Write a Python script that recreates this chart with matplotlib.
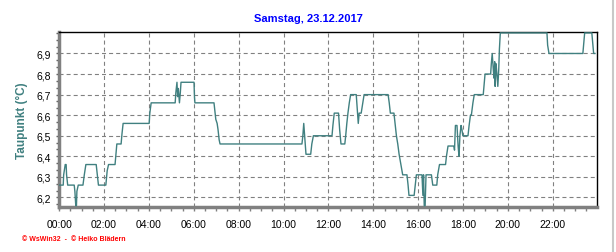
import matplotlib
matplotlib.use("Agg")
import matplotlib.pyplot as plt
from matplotlib.ticker import MultipleLocator, FixedLocator, FuncFormatter
from matplotlib.lines import Line2D

plt.rcParams['font.family'] = ['Liberation Sans', 'DejaVu Sans']
plt.rcParams['lines.scale_dashes'] = False

title = "Samstag, 23.12.2017"
ylabel = "Taupunkt (°C)"
footer = "© WsWin32  -  © Heiko Blädern"

# time in hours, dew point values (°C)
hours = [0.00, 0.18, 0.20, 0.27, 0.31, 0.33, 0.38, 0.67, 0.70, 0.74, 0.77, 0.79, 0.85,
         1.06, 1.12, 1.19, 1.65, 1.70, 1.75, 2.08, 2.14, 2.20, 2.49, 2.53, 2.57, 2.76,
         2.80, 2.85, 4.01, 4.04, 4.10, 5.17, 5.20, 5.25, 5.28, 5.31, 5.36, 5.40, 5.43,
         6.01, 6.03, 6.05, 6.90, 6.93, 6.98, 7.04, 7.08, 7.13, 7.17, 10.82, 10.86, 10.90,
         10.94, 11.00, 11.21, 11.26, 11.33, 12.16, 12.20, 12.26, 12.45, 12.50, 12.56,
         12.73, 12.77, 12.82, 12.87, 12.93, 12.99, 13.24, 13.28, 13.33, 13.37, 13.46,
         13.53, 13.59, 14.66, 14.71, 14.76, 14.92, 14.97, 15.03, 15.09, 15.15, 15.23,
         15.31, 15.50, 15.55, 15.59, 15.82, 15.87, 15.92, 16.17, 16.21, 16.24, 16.27,
         16.31, 16.35, 16.59, 16.65, 16.83, 16.87, 16.95, 17.22, 17.26, 17.33, 17.59,
         17.62, 17.66, 17.73, 17.78, 17.82, 17.86, 17.91, 17.95, 17.99, 18.22, 18.27,
         18.33, 18.37, 18.44, 18.50, 18.90, 18.94, 18.98, 19.23, 19.26, 19.30, 19.35,
         19.38, 19.41, 19.43, 19.47, 19.51, 19.55, 19.59, 19.62, 19.66, 21.74, 21.77,
         21.83, 23.34, 23.38, 23.42, 23.74, 23.78, 23.82, 23.88]
values = [6.26, 6.26, 6.31, 6.36, 6.36, 6.31, 6.26, 6.26, 6.23, 6.16, 6.16, 6.23, 6.26,
          6.26, 6.31, 6.36, 6.36, 6.31, 6.26, 6.26, 6.33, 6.36, 6.36, 6.41, 6.46, 6.46,
          6.51, 6.56, 6.56, 6.61, 6.66, 6.66, 6.71, 6.76, 6.69, 6.73, 6.66, 6.71, 6.76,
          6.76, 6.69, 6.66, 6.66, 6.63, 6.58, 6.56, 6.53, 6.48, 6.46, 6.46, 6.50, 6.56,
          6.50, 6.41, 6.41, 6.46, 6.50, 6.50, 6.55, 6.61, 6.61, 6.53, 6.46,
          6.46, 6.50, 6.56, 6.61, 6.66, 6.70, 6.70, 6.64, 6.56, 6.61, 6.61,
          6.66, 6.70, 6.70, 6.66, 6.61, 6.61, 6.56, 6.50, 6.46, 6.41, 6.36,
          6.31, 6.31, 6.26, 6.21, 6.21, 6.26, 6.31, 6.31, 6.21, 6.31, 6.16,
          6.16, 6.31, 6.31, 6.26, 6.26, 6.31, 6.36, 6.36, 6.40, 6.45, 6.45,
          6.43, 6.55, 6.55, 6.45, 6.40, 6.50, 6.55, 6.53, 6.50, 6.50, 6.55,
          6.60, 6.60, 6.66, 6.70, 6.70, 6.75, 6.80, 6.80, 6.85, 6.90, 6.82,
          6.78, 6.86, 6.74, 6.85, 6.80, 6.74, 6.82, 6.92, 7.00, 7.00, 6.94,
          6.90, 6.90, 6.95, 7.00, 7.00, 6.95, 6.90, 6.90]

x_ticks = list(range(0, 24, 2))
x_labels = [f"{h:02d}:00" for h in x_ticks]
y_ticks = [6.2, 6.3, 6.4, 6.5, 6.6, 6.7, 6.8, 6.9]
y_labels = ["6,2", "6,3", "6,4", "6,5", "6,6", "6,7", "6,8", "6,9"]

W, H = 616, 253
fig = plt.figure(figsize=(W / 100, H / 100), dpi=100)
fig.patch.set_facecolor('white')
ax = fig.add_axes([58.5 / W, (H - 207.7) / H, (597 - 58.5) / W, (207.7 - 33.3) / H])

ax.plot(hours, values, color='#408080', linewidth=1.0, zorder=3)

ax.set_xlim(-0.03, 23.97)
ax.set_ylim(6.155, 7.003)

ax.xaxis.set_major_locator(FixedLocator(x_ticks))
ax.set_xticks(x_ticks)
ax.set_xticklabels(x_labels)
ax.xaxis.set_minor_locator(MultipleLocator(0.5))
ax.set_yticks(y_ticks)
ax.set_yticklabels(y_labels)
ax.yaxis.set_minor_locator(MultipleLocator(0.1 / 3))

ax.tick_params(axis='x', which='both', direction='out', length=3, width=1,
               color='#808080', labelsize=7.5, pad=6)
ax.tick_params(axis='y', which='both', direction='out', length=2.5, width=1,
               color='#606060', labelsize=7.5, pad=3)

ax.grid(True, which='major', color='#808080', linestyle=(0, (2.9, 2.2)), linewidth=0.8)

for s in ['top', 'right']:
    ax.spines[s].set_color('black')
    ax.spines[s].set_linewidth(1.0)
for s in ['left', 'bottom']:
    ax.spines[s].set_color('#808080')
    ax.spines[s].set_linewidth(2.5)

ax.set_ylabel(ylabel, color='#408080', fontsize=8.5, fontweight='bold', labelpad=6)

fig.text(0.5, 1 - 18.5 / H, title, color='#0000ff', fontsize=8, fontweight='bold',
         ha='center', va='center')
fig.text(22 / W, 1 - 240 / H, footer, color='#ff0000', fontsize=5, fontweight='bold',
         ha='left', va='center')

fig.add_artist(Line2D([613 / W, 613 / W], [0, 1], color='#c8c8c8', linewidth=1.5,
                      transform=fig.transFigure))

fig.savefig("out.png", dpi=100)
